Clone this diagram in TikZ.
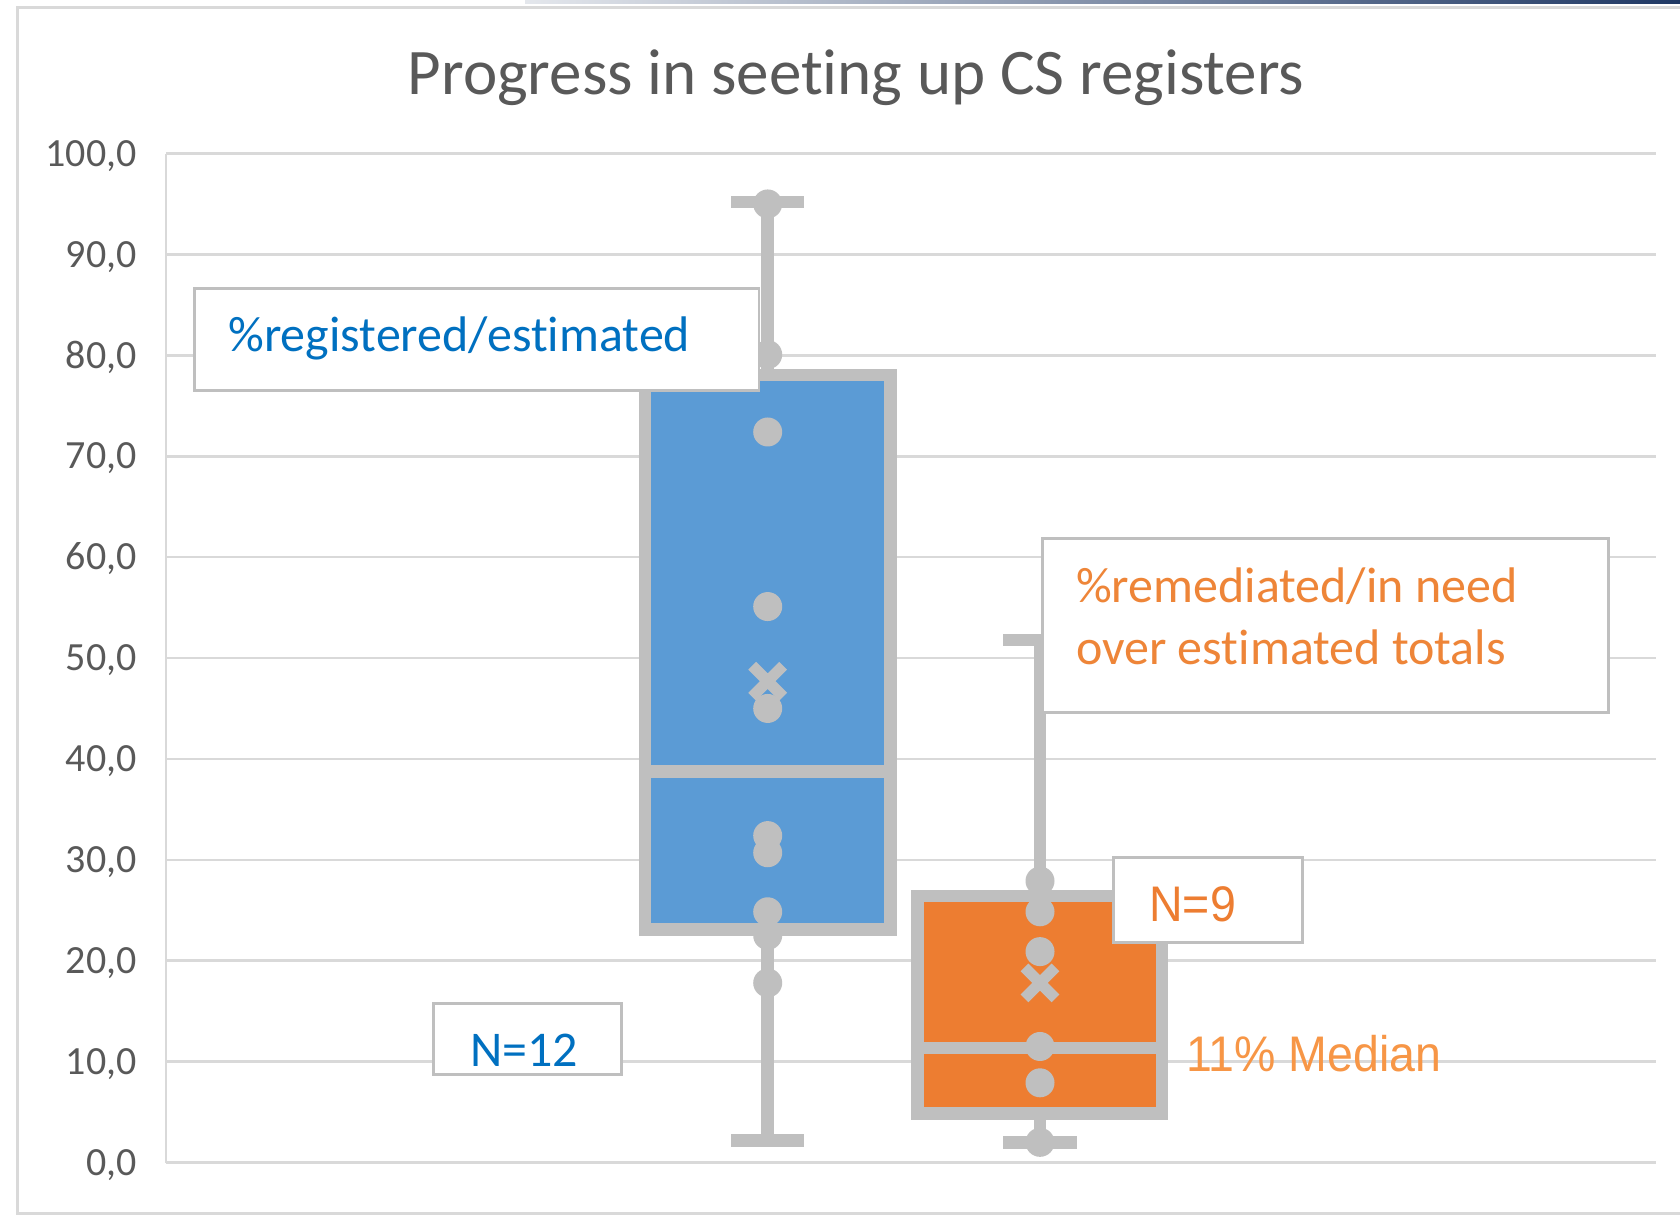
\documentclass[tikz,border=0pt]{standalone}
\usepackage{fontspec}
\setmainfont{Carlito}[Ligatures=CommonOff]
\newfontfamily\arialfont[FakeStretch=0.93]{Liberation Sans}
\usetikzlibrary{shapes.misc}
\definecolor{gridc}{HTML}{D9D9D9}
\definecolor{boxc}{HTML}{BFBFBF}
\definecolor{bluefill}{HTML}{5B9BD5}
\definecolor{orangefill}{HTML}{ED7D31}
\definecolor{txtgray}{HTML}{595959}
\definecolor{bluetxt}{HTML}{0070C0}
\definecolor{orangetxt}{HTML}{EE8538}
\definecolor{mediantxt}{HTML}{F79646}
\definecolor{navy}{HTML}{1F3864}
\pgfmathdeclarefunction{vy}{1}{\pgfmathparse{1162.5-10.09*#1}}
\begin{document}
\begin{tikzpicture}[x=0.5pt,y=-0.5pt,
  gridln/.style={draw=gridc,line width=1.3pt},
  ticklbl/.style={text=txtgray,inner sep=0pt,font=\fontsize{20}{24}\selectfont},
  boxln/.style={draw=boxc,line width=6.25pt},
  pdot/.style={circle,fill=boxc,minimum size=14.5pt,inner sep=0pt},
  meanx/.style={cross out,draw=boxc,line width=5.5pt,minimum size=10pt,inner sep=0pt},
  annot/.style={draw=boxc,fill=white,line width=1.4pt,inner sep=0pt,anchor=north west},
  annottxt/.style={inner sep=0pt,anchor=base west,font=\fontsize{25}{30}\selectfont},
  arialtxt/.style={inner sep=0pt,anchor=base west,font=\arialfont\fontsize{25}{30}\selectfont}]
\useasboundingbox (0,0) rectangle (1680,1215);
\fill[white] (0,0) rectangle (1680,1215);
% top decorative line
\shade[left color=navy!12,right color=navy] (525,0) rectangle (1680,3.5);
% chart border
\draw[draw=gridc,line width=1.5pt] (1682,7) -- (17,7) -- (17,1213) -- (1682,1213);
% title
\node[text=txtgray,inner sep=0pt,anchor=base,font=\fontsize{32.5}{39}\selectfont] (title) at (856,94.3) {Progress in seeting up CS registers};
% grid and ticks
\foreach \v in {0,10,...,100}{
  \draw[gridln] (166,{vy(\v)}) -- (1656,{vy(\v)});
  \node[ticklbl,anchor=base east] (t\v) at (137,{vy(\v)+12.7}) {\v,0};
}
\draw[gridln] (166,{vy(0)}) -- (166,{vy(100)});
% blue box plot
\draw[boxln] (767.7,{vy(78.05)}) -- (767.7,{vy(95.2)});
\draw[boxln] (731,{vy(95.2)}) -- (804,{vy(95.2)});
\draw[boxln] (767.7,{vy(23.1)}) -- (767.7,{vy(2.2)});
\draw[boxln] (731,{vy(2.2)}) -- (804,{vy(2.2)});
\draw[boxln,fill=bluefill] (645,{vy(78.05)}) rectangle (890.4,{vy(23.1)});
\draw[boxln] (645,{vy(38.76)}) -- (890.4,{vy(38.76)});
\foreach \v [count=\i] in {95.0,80.07,72.4,55.1,45.0,32.4,30.7,24.85,22.5,17.8}
  \node[pdot] (b\i) at (767.7,{vy(\v)}) {};
\node[meanx] (bmean) at (767.7,{vy(47.7)}) {};
% orange box plot
\draw[boxln] (1040,{vy(26.4)}) -- (1040,{vy(51.8)});
\draw[boxln] (1003,{vy(51.8)}) -- (1077,{vy(51.8)});
\draw[boxln] (1040,{vy(4.86)}) -- (1040,{vy(2.0)});
\draw[boxln] (1003,{vy(2.0)}) -- (1077,{vy(2.0)});
\draw[boxln,fill=orangefill] (917.7,{vy(26.4)}) rectangle (1162,{vy(4.86)});
\draw[boxln] (917.7,{vy(11.37)}) -- (1162,{vy(11.37)});
\foreach \v [count=\i] in {27.9,24.85,20.9,11.5,7.9,2.0}
  \node[pdot] (o\i) at (1040,{vy(\v)}) {};
\node[meanx] (omean) at (1040,{vy(17.8)}) {};
% annotations
\node[annot,minimum width=282.3pt,minimum height=51pt] (lab1) at (192.9,287) {};
\node[annottxt,text=bluetxt] (lab1t) at (228,351.4) {\%registered/estimated};
\node[annot,minimum width=282.8pt,minimum height=87.3pt] (lab2) at (1041.4,536.8) {};
\node[annottxt,text=orangetxt] (lab2a) at (1075.7,602) {\%remediated/in need};
\node[annottxt,text=orangetxt] (lab2b) at (1075.7,664) {over estimated totals};
\node[annot,minimum width=94.35pt,minimum height=42.35pt] (lab3) at (1112,856) {};
\node[arialtxt,text=orangefill] (lab3t) at (1149,921) {N=9};
\node[annot,minimum width=94.3pt,minimum height=35.5pt] (lab4) at (431.8,1002) {};
\node[annottxt,text=bluetxt] (lab4t) at (470,1066) {N=12};
\node[arialtxt,text=mediantxt] (med) at (1186,1071) {11\% Median};
\end{tikzpicture}
\end{document}
